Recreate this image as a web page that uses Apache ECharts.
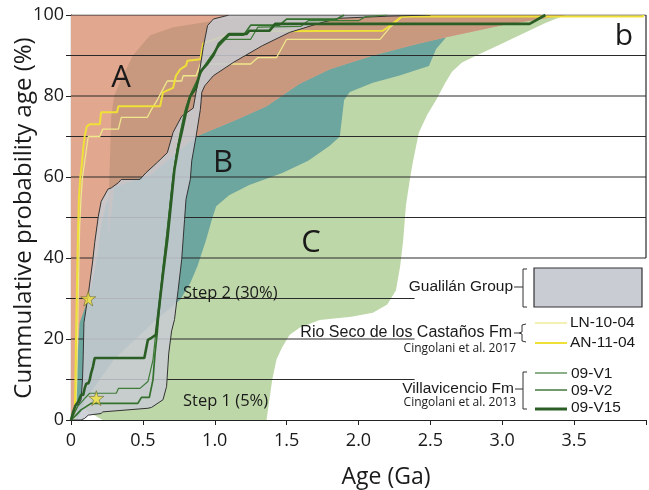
<!DOCTYPE html>
<html><head><meta charset="utf-8">
<script src="https://cdn.jsdelivr.net/npm/echarts@6/dist/echarts.min.js"></script>
<style>html,body{margin:0;padding:0;background:#fff}#c{width:649px;height:490px}</style>
</head><body><div id="c"></div>
<script>
// ---------- data (Ga, cumulative %) ----------
const regionC = [[0.22,0],[1.36,0],[1.38,5],[1.4,10],[1.43,15],[1.47,18],[1.52,21],[1.59,22.8],[1.73,24.7],[1.95,25.5],[2.1,26.5],[2.2,28.5],[2.26,32],[2.29,38],[2.31,44],[2.33,53],[2.36,60],[2.38,64],[2.42,71],[2.48,75.5],[2.54,79],[2.6,83],[2.65,86],[2.72,88.3],[2.82,90],[2.97,92.5],[3.12,95],[3.3,98],[3.44,100],[0,100],[0,5],[0.06,4],[0.1,2.5]];
const regionB = [[0.04,0],[0.07,2],[0.1,5],[0.3,15],[0.6,25],[0.76,29.7],[0.83,33.8],[0.88,38],[0.94,44.5],[0.98,49.5],[1.01,52.8],[1.1,55.5],[1.24,58],[1.47,61],[1.65,64],[1.8,67.7],[1.87,70],[1.9,79],[1.94,81],[2.1,83.3],[2.28,85],[2.49,87.4],[2.54,91.6],[2.61,94.5],[2.4,93.5],[2.1,91],[1.8,88],[1.59,84.5],[1.36,79],[1.13,75],[0.87,71.5],[0,71.5]];
const regionA = [[0,0],[0.015,0],[0.03,5],[0.045,15],[0.06,24],[0.11,29],[0.15,34],[0.18,40],[0.21,48],[0.24,53],[0.3,57.5],[0.47,59.6],[0.55,60.5],[0.7,65],[0.8,68],[0.87,70],[1.13,73.8],[1.36,77.5],[1.59,83],[1.8,86.6],[2.1,90],[2.4,92.8],[2.61,94.5],[3.0,97.5],[3.44,100],[0,100]];
const regionAdark = [[0.26,45],[0.265,58],[0.28,75],[0.3,80],[0.34,83.4],[0.43,90],[0.55,95],[0.71,97],[0.94,98.3],[1.2,99.5],[1.5,100],[3.44,100],[3.0,97.5],[2.61,94.5],[2.4,92.8],[2.1,90],[1.8,86.6],[1.59,83],[1.36,77.5],[1.13,73.8],[0.87,70],[0.8,68],[0.7,65],[0.55,60.5],[0.47,59.6],[0.3,57.5]];
const gualilan = [[0,0],[0.015,1],[0.04,3],[0.07,5],[0.08,10],[0.085,16],[0.09,24],[0.12,31],[0.15,39],[0.165,43.8],[0.19,50.3],[0.21,54],[0.257,57],[0.28,57.3],[0.33,58.6],[0.35,59.4],[0.48,59.4],[0.52,61],[0.6,63.6],[0.67,66],[0.71,71],[0.77,75],[0.85,77],[0.88,83],[0.9,87.4],[0.92,92],[0.95,97.4],[0.99,99],[1.1,100],[2.5,100],[2.2,99.7],[1.87,99.2],[1.75,98.2],[1.52,95.7],[1.33,92.4],[1.13,88.3],[0.99,85],[0.93,82.5],[0.91,80.9],[0.9,76.7],[0.87,70],[0.84,64],[0.83,59.4],[0.8,54.5],[0.79,49.5],[0.77,39.6],[0.745,32],[0.72,24.8],[0.7,22],[0.68,16.5],[0.665,8.3],[0.64,5],[0.56,3.1],[0.535,2.9],[0.22,2],[0.21,1.6],[0.12,1.2],[0.095,0.4],[0.07,0]];

const LN1004 = [[0.03,0],[0.04,10],[0.045,20],[0.05,30],[0.055,40],[0.06,48],[0.07,55],[0.08,60],[0.1,65],[0.12,70],[0.2,70],[0.22,71.8],[0.33,71.8],[0.35,74.7],[0.53,74.7],[0.56,76.7],[0.6,79],[0.64,81.7],[0.67,83.7],[0.77,83.7],[0.78,85],[0.87,85],[0.9,87.9],[1.25,87.9],[1.3,89.5],[1.43,89.5],[1.5,94],[2.15,94],[2.22,97],[2.3,99.5],[2.5,100]];
const AN1104 = [[0.025,0],[0.03,8],[0.035,20],[0.04,30],[0.045,40],[0.05,48],[0.055,55],[0.065,60],[0.075,63],[0.085,67],[0.095,70],[0.11,72.5],[0.13,73],[0.2,73],[0.21,76],[0.32,76],[0.33,77.5],[0.62,77.5],[0.64,80.9],[0.71,82],[0.73,85],[0.76,86.6],[0.8,87.5],[0.81,88.7],[0.9,89.1],[0.92,93],[1.08,95],[1.3,96],[2.17,96.1],[2.22,97.4],[2.3,99.6],[3.98,99.6],[3.98,100]];
const V1 = [[0,0],[0.02,1.5],[0.05,3.5],[0.1,5.5],[0.13,6.6],[0.315,6.6],[0.33,7.8],[0.48,7.8],[0.535,9.5],[0.57,14.8],[0.59,21.5],[0.61,28],[0.64,38],[0.67,47],[0.7,57],[0.73,65],[0.76,71],[0.79,76],[0.82,79.5],[0.86,82],[0.9,85.5],[0.95,88.5],[1.0,91],[1.06,94],[1.25,94],[1.3,97],[1.6,97.2],[1.65,98.6],[2.0,98.6],[2.05,99.6],[2.2,100]];
const V2 = [[0,0],[0.03,1],[0.07,2.5],[0.14,4.1],[0.465,4.1],[0.49,5.6],[0.545,5.6],[0.57,9.9],[0.585,16.5],[0.6,21.5],[0.62,30],[0.65,40],[0.68,50],[0.71,60],[0.74,67],[0.77,72],[0.8,77],[0.84,81],[0.88,84],[0.92,87],[0.97,89.5],[1.02,92],[1.1,95],[1.2,95],[1.25,97.5],[1.45,97.5],[1.5,99],[1.85,99],[1.9,100]];
const V15 = [[0,0],[0.015,2],[0.03,3.5],[0.05,4.5],[0.06,4.5],[0.07,6.2],[0.085,6.2],[0.095,7.8],[0.1,7.8],[0.106,9],[0.12,9],[0.13,9.9],[0.135,9.9],[0.14,11.6],[0.145,11.6],[0.153,13.2],[0.16,13.2],[0.165,15.3],[0.51,15.3],[0.535,19.8],[0.56,20.3],[0.59,21],[0.6,24],[0.62,30],[0.64,36],[0.67,44.5],[0.7,55],[0.72,62],[0.75,68],[0.77,71],[0.8,76],[0.83,80],[0.87,82],[0.9,86],[0.95,88],[0.99,90],[1.03,93],[1.1,95.3],[1.22,95.3],[1.24,96.1],[1.38,96.1],[1.42,97.8],[3.19,97.8],[3.3,100]];
const stars = [[0.12,30],[0.176,5.4]];
const gridFull = [40,50,60,70,80,90,100];
const gridShort = [10,20,30];
const gridShortEnd = 2.39;
const xMax = 4;

// ---------- chart ----------
const chart = echarts.init(document.getElementById('c'), null, {renderer:'canvas'});
function poly(name, pts, fill, z, stroke, lw){
  return {type:'custom', name, z, silent:true, data:pts, encode:{x:0,y:1}, clip:true,
    renderItem:function(params, api){
      if(params.dataIndex!==0) return null;
      return {type:'polygon', shape:{points:pts.map(p=>api.coord(p))},
        style:{fill:fill, stroke:stroke||null, lineWidth:lw||0}};
    }};
}
function line(name, data, color, width, z){
  return {type:'line', name, data, symbol:'none', showSymbol:false, silent:true,
    lineStyle:{color, width}, z, animation:false};
}
const series = [
  poly('C', regionC, '#bed7a8', 1),
  poly('B', regionB, '#6da69f', 2),
  poly('A', regionA, '#e2a88f', 3),
  poly('Adark', regionAdark, '#c9997f', 4),
];
gridFull.forEach(y=>series.push(line('g'+y, [[0,y],[xMax,y]], '#2a2a2a', 1.2, 5)));
gridShort.forEach(y=>series.push(line('g'+y, [[0,y],[gridShortEnd,y]], '#2a2a2a', 1.2, 5)));
series.push(line('rb', [[xMax,40],[xMax,100]], '#2a2a2a', 1.2, 5));
series.push(line('LN-10-04', LN1004, '#efe78a', 1.3, 6));
series.push(line('AN-11-04', AN1104, '#efe038', 2, 6));
series.push(poly('Gualilan', gualilan, 'rgba(199,203,210,0.86)', 7, '#333', 1));
series.push(line('09-V1', V1, '#3e7b37', 1.2, 8));
series.push(line('09-V2', V2, '#34702e', 1.7, 8));
series.push(line('09-V15', V15, '#2b5e25', 2.6, 8));
series.push({type:'scatter', data:stars, z:9, silent:true,
  symbol:'path://M50,0 L61,35 L98,35 L68,57 L79,91 L50,70 L21,91 L32,57 L2,35 L39,35 Z',
  symbolSize:15, itemStyle:{color:'#f2e43c', borderColor:'#6b6b3a', borderWidth:0.8}});

const T = (text, x, y, size, opts={}) => Object.assign({type:'text', z:100, x, y,
  style:{text, font:(opts.weight||'normal')+' '+size+'px '+(opts.family||'"Open Sans"'),
    fill:opts.fill||'#1a1a1a', align:opts.align||'center', verticalAlign:'middle',
    textAlign:opts.align||'center', textVerticalAlign:'middle'}}, opts.rot?{rotation:opts.rot}:{});
const L = (pts, w, c) => ({type:'polyline', z:100, shape:{points:pts}, style:{stroke:c||'#333', lineWidth:w||1, fill:null}});
const LS = '"Liberation Sans"';
const graphic = [
  T('A', 121, 78, 31), T('B', 223, 163, 31), T('C', 311, 243, 31), T('b', 624, 36, 30),
  T('Step 2 (30%)', 183, 293, 16.5, {align:'left'}),
  T('Step 1 (5%)', 183, 401, 16.5, {align:'left'}),
  T('Cummulative probability age (%)', 24, 218, 24, {rot:Math.PI/2}),
  T('Age (Ga)', 386, 477, 23),
  // legend
  T('Gualilán Group', 513, 287, 15.5, {align:'right', family:LS}),
  L([[514,287],[523,287]]), L([[527,269],[523,269],[523,307],[527,307]]),
  {type:'rect', z:100, shape:{x:534, y:268, width:108, height:39}, style:{fill:'#c9cdd3', stroke:'#333', lineWidth:1.2}},
  T('Rio Seco de los Castaños Fm', 512, 333, 16, {align:'right', family:LS}),
  T('Cingolani et al. 2017', 516, 349, 12, {align:'right'}),
  L([[514,333],[519,333]]), L([[526,324],[522,325],[522,332],[519,333],[522,334],[522,341],[526,342]]),
  L([[535,323],[567,323]], 1.3, '#efe78a'), L([[535,343],[567,343]], 2, '#efe038'),
  T('LN-10-04', 570, 323, 15.5, {align:'left', family:LS}),
  T('AN-11-04', 570, 343, 15.5, {align:'left', family:LS}),
  T('Villavicencio Fm', 514, 389, 15.5, {align:'right', family:LS}),
  T('Cingolani et al. 2013', 516, 403, 12, {align:'right'}),
  L([[515,389],[523,389]]), L([[527,372],[523,372],[523,409],[527,409]]),
  L([[535,373],[567,373]], 1.2, '#3e7b37'), L([[535,390],[567,390]], 1.4, '#34702e'), L([[535,409],[567,409]], 3, '#2b5e25'),
  T('09-V1', 571, 374, 15.5, {align:'left', family:LS}),
  T('09-V2', 571, 391, 15.5, {align:'left', family:LS}),
  T('09-V15', 571, 408, 15.5, {align:'left', family:LS}),
];

chart.setOption({
  animation:false,
  grid:{left:71, right:2, top:15, bottom:70, containLabel:false},
  xAxis:{type:'value', min:0, max:xMax, interval:0.5,
    axisLine:{show:true, onZero:false, lineStyle:{color:'#222', width:1.2}},
    axisTick:{show:true, inside:false, length:5, lineStyle:{color:'#222'}},
    splitLine:{show:false},
    axisLabel:{margin:12, fontSize:18, fontFamily:'Open Sans', color:'#1a1a1a',
      formatter:v=> v===0?'0':(v>=xMax?'':v.toFixed(1))}},
  yAxis:{type:'value', min:0, max:100, interval:10,
    axisLine:{show:true, lineStyle:{color:'#222', width:1.2}},
    axisTick:{show:true, inside:false, length:5, lineStyle:{color:'#222'}},
    splitLine:{show:false},
    axisLabel:{margin:7, fontSize:18, fontFamily:'Open Sans', color:'#1a1a1a',
      formatter:v=> (v%20===0)?String(v):''}},
  series, graphic
});
</script></body></html>
